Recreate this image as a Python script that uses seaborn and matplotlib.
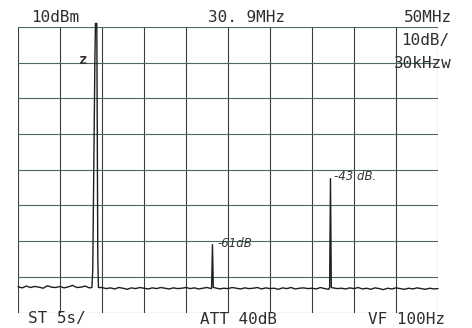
import numpy as np
import pandas as pd
import matplotlib
matplotlib.use('Agg')
import matplotlib.pyplot as plt
import seaborn as sns

ref_level = 10          # dBm, top line
db_per_div = 10
n_ydiv = 8
f_start, f_stop = 5.9, 55.9   # MHz (centre 30.9)

noise_db = [
    -62.8, -63.1, -62.6, -63.0, -62.7, -62.9, -63.2, -62.5, -62.9, -63.0,
    -62.7, -63.1, -62.8, -62.4, -63.0, -62.9, -62.6, -63.1, -62.8, -62.7,
    -63.0, -63.3, -63.1, -63.4, -63.0, -63.2, -63.5, -63.1, -63.3, -63.0,
    -63.2, -63.4, -63.1, -63.3, -63.0, -63.2, -63.4, -63.1, -63.3, -63.2,
    -63.0, -63.3, -63.1, -63.4, -63.2, -63.0, -63.3, -63.1, -63.4, -63.2,
    -63.3, -63.0, -63.2, -63.4, -63.1, -63.3, -63.2, -63.0, -63.4, -63.1,
    -63.3, -63.2, -63.5, -63.1, -63.3, -63.0, -63.4, -63.2, -63.1, -63.3,
    -63.2, -63.4, -63.0, -63.3, -63.5, -63.1, -63.3, -63.2, -63.4, -63.1,
    -63.3, -63.0, -63.4, -63.2, -63.5, -63.1, -63.3, -63.6, -63.2, -63.4,
    -63.1, -63.3, -63.5, -63.2, -63.4, -63.1, -63.3, -63.5, -63.2, -63.4,
    -63.3,
]

peak_freqs = [15.2, 29.05, 43.1]       # MHz
# peak outlines: offsets (MHz) and levels (dBm)
main_off = [-0.5, -0.4, -0.15, -0.08, 0.08, 0.12, 0.2, 0.28]
main_lvl = [-63, -58, 0, 11, 11, -10, -55, -63]
spur2_off = [-0.1, 0.0, 0.1]
spur2_lvl = [-63, -51, -63]
spur3_off = [-0.1, 0.0, 0.1]
spur3_lvl = [-63, -32.5, -63]

# --- build the trace ---
noise_f = np.linspace(f_start, f_stop, len(noise_db))
trace = pd.DataFrame({'freq': noise_f, 'level': noise_db})
shapes = [(main_off, main_lvl), (spur2_off, spur2_lvl), (spur3_off, spur3_lvl)]
for pf, (offs, lvls) in zip(peak_freqs, shapes):
    trace = trace[(trace['freq'] < pf + min(offs)) | (trace['freq'] > pf + max(offs))]
    trace = pd.concat([trace, pd.DataFrame({'freq': [pf + o for o in offs], 'level': lvls})])
trace = trace.sort_values('freq').reset_index(drop=True)

# --- plot ---
sns.set_style('white')
plt.rcParams['font.family'] = ['DejaVu Sans Mono', 'DejaVu Sans']

fig = plt.figure(figsize=(4.72, 3.28), dpi=100)
ax = fig.add_axes([18 / 472, 1 - 312.5 / 328, 420 / 472, 285.5 / 328])

y_bottom = ref_level - n_ydiv * db_per_div
ax.set_xlim(f_start, f_stop)
ax.set_ylim(y_bottom, ref_level)

# graticule
for f in np.linspace(f_start, f_stop, 11):
    ax.axvline(f, color='#3c3c3c', lw=0.8, zorder=1)
for lvl in np.arange(y_bottom, ref_level + 1, db_per_div):
    ax.axhline(lvl, color='#4a6868', lw=0.8, zorder=1)

sns.lineplot(data=trace, x='freq', y='level', estimator=None, sort=False,
             color='#1e1e1e', lw=1.0, ax=ax, zorder=3, clip_on=False)

for s in ax.spines.values():
    s.set_visible(False)
ax.set_xticks([])
ax.set_yticks([])
ax.set_xlabel('')
ax.set_ylabel('')

# marker + handwritten notes
ax.text(13.6, 0.8, 'z', fontsize=10, fontweight='bold', ha='center', va='center', color='#333333')
ax.text(29.7, -50.8, '-61dB', fontsize=8.5, style='italic', ha='left', va='center',
        color='#333333', family='DejaVu Sans')
ax.text(43.5, -31.8, '-43 dB.', fontsize=8.5, style='italic', ha='left', va='center',
        color='#333333', family='DejaVu Sans')

# screen annotations
txt = dict(fontsize=11.5, color='#2e2e2e', va='center')
fig.text(55 / 472, 1 - 18 / 328, '10dBm', ha='center', **txt)
fig.text(246 / 472, 1 - 18 / 328, '30. 9MHz', ha='center', **txt)
fig.text(452 / 472, 1 - 18 / 328, '50MHz', ha='right', **txt)
fig.text(449 / 472, 1 - 41 / 328, '10dB/', ha='right', **txt)
fig.text(452 / 472, 1 - 63 / 328, '30kHzw', ha='right', **txt)
fig.text(57 / 472, 1 - 319 / 328, 'ST 5s/', ha='center', **txt)
fig.text(239 / 472, 1 - 319 / 328, 'ATT 40dB', ha='center', **txt)
fig.text(406 / 472, 1 - 319 / 328, 'VF 100Hz', ha='center', **txt)

fig.savefig('out.png', dpi=100, facecolor='white')
